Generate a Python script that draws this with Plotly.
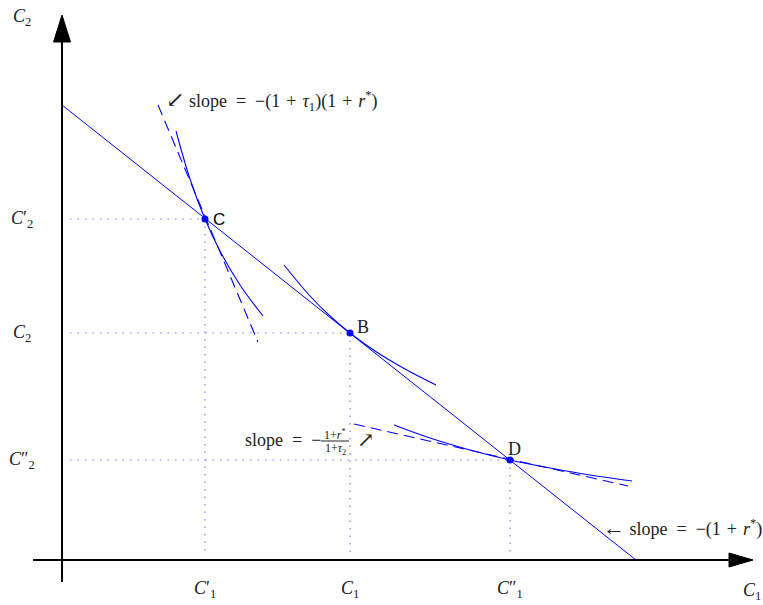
import plotly.graph_objects as go

# ---------------- data (chart units; origin at the axes' crossing) ----------------
# budget line  C2 = W - (1+r*) C1
budget_x = [0.0, 5.74]
budget_y = [4.55, 0.0]

# consumption points
pt_names = ["C", "B", "D"]
pt_x = [1.43, 2.88, 4.48]
pt_y = [3.41, 2.27, 1.00]

# indifference curves
icC_x = [1.14, 1.28, 1.43, 1.58, 1.78, 2.01]
icC_y = [4.29, 3.81, 3.41, 3.09, 2.75, 2.44]
icB_x = [2.22, 2.48, 2.68, 2.88, 3.13, 3.43, 3.74]
icB_y = [2.95, 2.64, 2.44, 2.27, 2.09, 1.91, 1.75]
icD_x = [3.32, 3.68, 4.08, 4.48, 4.88, 5.28, 5.70]
icD_y = [1.35, 1.22, 1.10, 1.00, 0.92, 0.85, 0.79]

# tax-distorted price lines (dashed)
tanC_x = [0.96, 1.96]
tanC_y = [4.55, 2.18]
tanD_x = [2.92, 5.66]
tanD_y = [1.36, 0.74]

# tick labels
xtick_labels = ["<i>C</i>′<sub>1</sub>", "<i>C</i><sub>1</sub>", "<i>C</i>″<sub>1</sub>"]
ytick_labels = ["<i>C</i>′<sub>2</sub>", "<i>C</i><sub>2</sub>", "<i>C</i>″<sub>2</sub>"]

BLUE = "#0000ff"
GUIDE = "#7f7fff"
SERIF = "Liberation Serif, DejaVu Serif, serif"
EN = "\u2002"   # space around '='
TH = "\u2004"   # space around '+'
ARW = '<span style="font-size:22px">{}</span>'

fig = go.Figure()

# dotted guides
for px_, py_ in zip(pt_x, pt_y):
    fig.add_trace(go.Scatter(x=[0.08, px_], y=[py_, py_], mode="lines",
                             line=dict(color=GUIDE, width=1.2, dash="1.5px,6px"),
                             hoverinfo="skip", showlegend=False))
    fig.add_trace(go.Scatter(x=[px_, px_], y=[py_, 0.05], mode="lines",
                             line=dict(color=GUIDE, width=1.2, dash="1.5px,6px"),
                             hoverinfo="skip", showlegend=False))

# budget line
fig.add_trace(go.Scatter(x=budget_x, y=budget_y, mode="lines",
                         line=dict(color=BLUE, width=1), showlegend=False))

# indifference curves
for cx, cy in [(icC_x, icC_y), (icB_x, icB_y), (icD_x, icD_y)]:
    fig.add_trace(go.Scatter(x=cx, y=cy, mode="lines",
                             line=dict(color=BLUE, width=1.1, shape="spline", smoothing=1.0),
                             showlegend=False))

# dashed tangents
for tx, ty in [(tanC_x, tanC_y), (tanD_x, tanD_y)]:
    fig.add_trace(go.Scatter(x=tx, y=ty, mode="lines",
                             line=dict(color=BLUE, width=1.1, dash="11px,6px"),
                             showlegend=False))

# points
fig.add_trace(go.Scatter(x=pt_x, y=pt_y, mode="markers",
                         marker=dict(color=BLUE, size=7), showlegend=False))

# axes (lines + arrowheads)
shapes = [
    dict(type="line", xref="x", yref="y", x0=0, y0=-0.22, x1=0, y1=5.2,
         line=dict(color="black", width=2)),
    dict(type="line", xref="x", yref="y", x0=-0.29, y0=0, x1=6.72, y1=0,
         line=dict(color="black", width=2)),
    dict(type="path", xref="x", yref="y", path="M 0,5.45 L -0.085,5.18 L 0.085,5.18 Z",
         fillcolor="black", line=dict(color="black", width=1)),
    dict(type="path", xref="x", yref="y", path="M 6.91,0 L 6.67,0.07 L 6.67,-0.07 Z",
         fillcolor="black", line=dict(color="black", width=1)),
    # fraction bar
    dict(type="line", xref="x", yref="y", x0=2.59, y0=1.19, x1=2.87, y1=1.19,
         line=dict(color="#222222", width=1)),
]

ann = []
def txt(x, y, s, size=18, xanchor="center", family=SERIF, color="#222222"):
    ann.append(dict(x=x, y=y, xref="x", yref="y", text=s, showarrow=False,
                    xanchor=xanchor, yanchor="middle",
                    font=dict(family=family, size=size, color=color)))

# axis titles
txt(-0.40, 5.43, "<i>C</i><sub>2</sub>")
txt(6.90, -0.31, "<i>C</i><sub>1</sub>")
# tick labels
for lab, xv in zip(xtick_labels, pt_x):
    txt(xv, -0.29, lab)
for lab, yv in zip(ytick_labels, pt_y):
    txt(-0.40, yv, lab)

# point labels
txt(1.49, 3.41, "C", size=17, xanchor="left", family="Liberation Sans, Arial, sans-serif", color="black")
txt(2.93, 2.33, "B", xanchor="left")
txt(4.44, 1.11, "D", xanchor="left")

# slope notes
txt(1.02, 4.60, ARW.format("↙") + " slope" + EN + "=" + EN + "−(1" + TH + "+" + TH + "<i>τ</i><sub>1</sub>)(1"
    + TH + "+" + TH + "<i>r</i><sup>*</sup>)", xanchor="left")
txt(5.39, 0.33, ARW.format("←") + " slope" + EN + "=" + EN + "−(1" + TH + "+" + TH + "<i>r</i><sup>*</sup>)",
    xanchor="left")
txt(1.81, 1.20, "slope" + EN + "=" + EN + "−", xanchor="left")
txt(2.73, 1.26, "1+<i>r</i><sup>*</sup>", size=12)
txt(2.73, 1.11, "1+<i>τ</i><sub>2</sub>", size=12)
txt(2.93, 1.20, "↗", size=21, xanchor="left")

fig.update_layout(
    width=763, height=605,
    margin=dict(l=0, r=0, t=0, b=0),
    paper_bgcolor="white", plot_bgcolor="white",
    xaxis=dict(range=[-0.62, 7.01], visible=False, fixedrange=True),
    yaxis=dict(range=[-0.45, 5.60], visible=False, fixedrange=True),
    shapes=shapes, annotations=ann,
    showlegend=False,
)

# remove the page's default 8 px body margin so the figure fills the window
fig.write_html("out.html",
               config={"displayModeBar": False, "staticPlot": True},
               post_script="document.body.style.margin='0';document.body.style.overflow='hidden';")
